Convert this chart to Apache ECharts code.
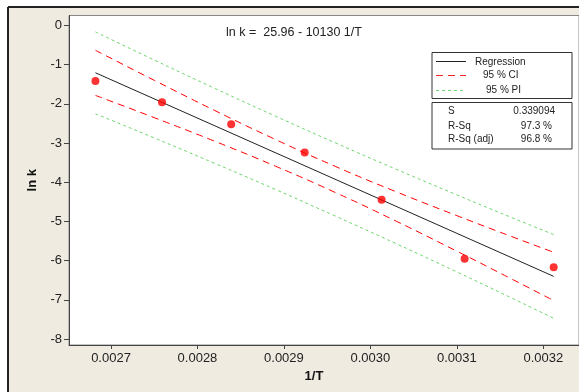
<!DOCTYPE html>
<html><head><meta charset="utf-8">
<script src="https://cdn.jsdelivr.net/npm/echarts@6/dist/echarts.min.js"></script>
<style>html,body{margin:0;padding:0;background:#fff}#c{width:579px;height:392px}</style>
</head><body><div id="c"></div>
<script>
// observed points (1/T, ln k)
const obsX = [0.002682, 0.002759, 0.002839, 0.002924, 0.003013, 0.003109, 0.003212];
const obsY = [-1.42, -1.96, -2.52, -3.24, -4.45, -5.95, -6.17];
// fitted regression line end points
const fitX = [0.002682, 0.003212];
const fitY = [-1.21, -6.40];
// confidence / prediction bands
const bandX   = [0.002682, 0.00275, 0.00282, 0.00289, 0.00296, 0.00303, 0.00310, 0.00316, 0.003212];
const ciUpper = [-0.637, -1.402, -2.172, -2.909, -3.602, -4.245, -4.852, -5.357, -5.787];
const ciLower = [-1.787, -2.354, -2.956, -3.589, -4.268, -4.995, -5.758, -6.429, -7.017];
const piUpper = [-0.168, -0.885, -1.608, -2.314, -3.002, -3.671, -4.323, -4.870, -5.335];
const piLower = [-2.256, -2.871, -3.520, -4.184, -4.868, -5.569, -6.287, -6.916, -7.469];
// text
const equation = 'ln k =  25.96 - 10130 1/T';
const legendNames = ['Regression', '95 % CI', '95 % PI'];
const statNames = ['S', 'R-Sq', 'R-Sq (adj)'];
const statValues = ['0.339094', '97.3 %', '96.8 %'];

const zip = (a, b) => a.map((v, i) => [v, b[i]]);
const FONT = 'Liberation Sans';
const chart = echarts.init(document.getElementById('c'));
const legendG = [];
const lx = 432, ly = 52.5;
legendG.push({type:'rect', shape:{x:lx, y:ly, width:140, height:46}, style:{fill:'#fff', stroke:'#333', lineWidth:1}, z:100});
legendG.push({type:'line', shape:{x1:436, y1:61.5, x2:466, y2:61.5}, style:{stroke:'#222', lineWidth:1}, z:101});
legendG.push({type:'line', shape:{x1:436, y1:75.5, x2:466, y2:75.5}, style:{stroke:'#ff2020', lineWidth:1.2, lineDash:[7,5]}, z:101});
legendG.push({type:'line', shape:{x1:436, y1:90.5, x2:466, y2:90.5}, style:{stroke:'#6ed66e', lineWidth:1, lineDash:[3,3]}, z:101});
const legX = [475, 483, 486], legY = [62, 75.5, 90];
legendNames.forEach((n, i) => legendG.push({type:'text', x:legX[i], y:legY[i], style:{text:n, font:'10px ' + FONT, fill:'#222', textVerticalAlign:'middle'}, z:101}));
legendG.push({type:'rect', shape:{x:lx, y:102.5, width:140, height:46.5}, style:{fill:'#fff', stroke:'#333', lineWidth:1}, z:100});
const stY = [111, 126, 139.5], stR = [555, 552, 552];
statNames.forEach((n, i) => {
  legendG.push({type:'text', x:448, y:stY[i], style:{text:n, font:'10px ' + FONT, fill:'#222', textVerticalAlign:'middle'}, z:101});
  legendG.push({type:'text', x:stR[i], y:stY[i], style:{text:statValues[i], font:'10px ' + FONT, fill:'#222', textAlign:'right', textVerticalAlign:'middle'}, z:101});
});

chart.setOption({
  backgroundColor: '#efebe1',
  animation: false,
  grid: {left: 69, top: 15.5, right: 0, bottom: 47, show: true, backgroundColor: '#fff', borderColor: '#888', borderWidth: 1},
  xAxis: {
    type: 'value', min: 0.0026514, max: 0.0032413, splitNumber: 5, minInterval: 0.0001, maxInterval: 0.0001,
    name: '1/T', nameLocation: 'middle', nameGap: 24,
    nameTextStyle: {fontFamily: FONT, fontSize: 13, fontWeight: 'bold', color: '#111', padding: [0, 20, 0, 0]},
    axisLine: {onZero: false, lineStyle: {color: '#444', width: 1}},
    axisTick: {length: 4, lineStyle: {color: '#444'}},
    axisLabel: {showMinLabel: false, showMaxLabel: false, margin: 7, fontFamily: FONT, fontSize: 13, color: '#222', formatter: v => v.toFixed(4)},
    splitLine: {show: false}
  },
  yAxis: {
    type: 'value', min: -8.15, max: 0.25, splitNumber: 8, minInterval: 1, maxInterval: 1,
    name: 'ln k', nameLocation: 'middle', nameGap: 30, nameRotate: 90,
    nameTextStyle: {fontFamily: FONT, fontSize: 13, fontWeight: 'bold', color: '#111'},
    axisLine: {show: true, onZero: false, lineStyle: {color: '#444', width: 1}},
    axisTick: {show: true, length: 5, lineStyle: {color: '#444'}},
    axisLabel: {showMinLabel: false, showMaxLabel: false, margin: 7, fontFamily: FONT, fontSize: 13, color: '#222'},
    splitLine: {show: false}
  },
  graphic: [
    {type:'rect', shape:{x:0, y:0, width:8, height:392}, style:{fill:'#fff'}, z:50},
    {type:'rect', shape:{x:0, y:0, width:579, height:7}, style:{fill:'#fff'}, z:50},
    {type:'line', shape:{x1:8, y1:7, x2:579, y2:7}, style:{stroke:'#222', lineWidth:2}, z:51},
    {type:'line', shape:{x1:8, y1:7, x2:8, y2:392}, style:{stroke:'#222', lineWidth:2}, z:51},
    {type:'text', x:294, y:33, style:{text:equation, font:'12.5px ' + FONT, fill:'#222', textAlign:'center', textVerticalAlign:'middle'}, z:60}
  ].concat(legendG),
  series: [
    {name:'95 % PI', type:'line', data:zip(bandX, piUpper), smooth:true, symbol:'none', lineStyle:{color:'#6ed66e', width:1, type:[3,3]}},
    {name:'95 % PI', type:'line', data:zip(bandX, piLower), smooth:true, symbol:'none', lineStyle:{color:'#6ed66e', width:1, type:[3,3]}},
    {name:'95 % CI', type:'line', data:zip(bandX, ciUpper), smooth:true, symbol:'none', lineStyle:{color:'#ff0000', width:1, type:[7,5]}},
    {name:'95 % CI', type:'line', data:zip(bandX, ciLower), smooth:true, symbol:'none', lineStyle:{color:'#ff0000', width:1, type:[7,5]}},
    {name:'Regression', type:'line', data:zip(fitX, fitY), symbol:'none', lineStyle:{color:'#222', width:1}},
    {name:'ln k', type:'scatter', data:zip(obsX, obsY), symbol:'circle', symbolSize:8, itemStyle:{color:'#ff0000'}, z:5}
  ]
});
</script></body></html>
